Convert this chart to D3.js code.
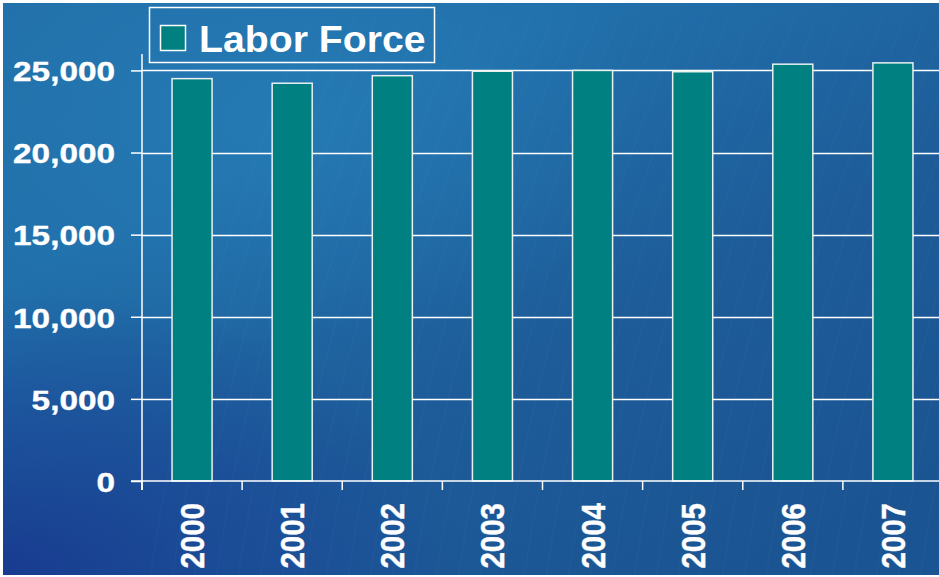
<!DOCTYPE html>
<html>
<head>
<meta charset="utf-8">
<script src="https://cdn.jsdelivr.net/npm/d3@7"></script>
<style>
  html, body { margin: 0; padding: 0; background: #ffffff; }
  svg { display: block; }
  text { font-family: "Liberation Sans", Arial, sans-serif; font-weight: bold; fill: #ffffff; }
</style>
</head>
<body>
<svg id="chart" width="939" height="577"></svg>
<script>
const categories = ["2000", "2001", "2002", "2003", "2004", "2005", "2006", "2007"];
const laborForce = [24500, 24220, 24680, 24950, 25000, 24920, 25380, 25460];
const yTicks = [0, 5000, 10000, 15000, 20000, 25000];
const seriesName = "Labor Force";

const W = 939, H = 577;
const margin = { left: 142, right: -4, top: 54, bottom: 96 };
const svg = d3.select("#chart");
const defs = svg.append("defs");

// Background gradients
const lg = defs.append("linearGradient").attr("id", "bg").attr("x1", 0).attr("y1", 0).attr("x2", 0.8).attr("y2", 1);
lg.append("stop").attr("offset", "0%").attr("stop-color", "#2270aa");
lg.append("stop").attr("offset", "30%").attr("stop-color", "#2170ab");
lg.append("stop").attr("offset", "65%").attr("stop-color", "#1d5c99");
lg.append("stop").attr("offset", "100%").attr("stop-color", "#1b5492");

const rg = defs.append("radialGradient").attr("id", "glow").attr("cx", 0.3).attr("cy", 0.2).attr("r", 0.4);
rg.append("stop").attr("offset", "0%").attr("stop-color", "#2a86bf").attr("stop-opacity", 0.45);
rg.append("stop").attr("offset", "100%").attr("stop-color", "#2a86bf").attr("stop-opacity", 0);

const dk = defs.append("radialGradient").attr("id", "dark").attr("cx", 0).attr("cy", 1).attr("r", 0.5);
dk.append("stop").attr("offset", "0%").attr("stop-color", "#18398f").attr("stop-opacity", 0.95);
dk.append("stop").attr("offset", "60%").attr("stop-color", "#1a4396").attr("stop-opacity", 0.5);
dk.append("stop").attr("offset", "100%").attr("stop-color", "#1a4396").attr("stop-opacity", 0);

svg.append("rect").attr("x", 3).attr("y", 3).attr("width", W - 3).attr("height", H - 5).attr("fill", "url(#bg)");
svg.append("rect").attr("x", 3).attr("y", 3).attr("width", W - 3).attr("height", H - 5).attr("fill", "url(#glow)");
svg.append("rect").attr("x", 3).attr("y", 3).attr("width", W - 3).attr("height", H - 5).attr("fill", "url(#dark)");

// faint streaks (decorative)
const streaks = svg.append("g").attr("opacity", 0.035).attr("stroke", "#ffffff").attr("fill", "none");
d3.range(0, 40).forEach(i => {
  const x0 = 150 + i * 22;
  streaks.append("path").attr("d", `M${x0},577 Q${x0 + 40},300 ${x0 + 160},20`).attr("stroke-width", 0.8);
});

const x = d3.scaleBand().domain(categories).range([margin.left, W - margin.right]).paddingInner(0.6).paddingOuter(0.3);
const bandStep = x.step();
const y = d3.scaleLinear().domain([0, 26000]).range([H - margin.bottom, margin.top]);

// gridlines
svg.append("g").selectAll("line").data(yTicks.filter(d => d > 0)).join("line")
  .attr("x1", margin.left).attr("x2", W)
  .attr("y1", d => Math.round(y(d)) + 0.5).attr("y2", d => Math.round(y(d)) + 0.5)
  .attr("stroke", "#ffffff").attr("stroke-width", 1.5);

// bars
svg.append("g").selectAll("rect").data(laborForce).join("rect")
  .attr("x", (d, i) => x(categories[i]))
  .attr("y", d => y(d))
  .attr("width", x.bandwidth())
  .attr("height", d => y(0) - y(d))
  .attr("fill", "#008080")
  .attr("stroke", "#e8f0f0").attr("stroke-width", 1.5);

// y axis
const yAxis = d3.axisLeft(y).tickValues(yTicks).tickSize(11).tickPadding(16).tickFormat(d3.format(","));
const gy = svg.append("g").attr("transform", `translate(${margin.left},0)`).call(yAxis);
gy.select(".domain").remove();
gy.append("line").attr("x1", 0).attr("x2", 0).attr("y1", margin.top).attr("y2", y(0) + 9)
  .attr("stroke", "#ffffff").attr("stroke-width", 1.5);
gy.selectAll(".tick line").attr("stroke", "#ffffff").attr("stroke-width", 1.5);
gy.selectAll(".tick text")
  .attr("font-size", 28.5).attr("fill", "#ffffff").attr("dy", "0.36em")
  .attr("stroke", "#ffffff").attr("stroke-width", 0.4)
  .each(function () {
    const t = d3.select(this);
    const xx = +t.attr("x");
    t.attr("transform", `translate(${xx},0) scale(1.17,1) translate(${-xx},0)`);
  });

// x axis
svg.append("line").attr("x1", margin.left - 11).attr("x2", W).attr("y1", y(0)).attr("y2", y(0))
  .attr("stroke", "#ffffff").attr("stroke-width", 1.5);
const boundaries = d3.range(categories.length).map(i => margin.left + i * bandStep);
svg.append("g").selectAll("line").data(boundaries).join("line")
  .attr("x1", d => d).attr("x2", d => d).attr("y1", y(0)).attr("y2", y(0) + 9)
  .attr("stroke", "#ffffff").attr("stroke-width", 1.5);
svg.append("g").selectAll("text").data(categories).join("text")
  .attr("transform", d => `translate(${x(d) + x.bandwidth() / 2},${y(0) + 22}) rotate(-90) scale(1,1.13)`)
  .attr("text-anchor", "end").attr("dy", "0.36em")
  .attr("font-size", 29.5)
  .attr("stroke", "#ffffff").attr("stroke-width", 0.4)
  .text(d => d);

// legend
const lgd = svg.append("g");
lgd.append("rect").attr("x", 149.5).attr("y", 7.5).attr("width", 285).attr("height", 55)
  .attr("fill", "none").attr("stroke", "#ffffff").attr("stroke-width", 1.5);
lgd.append("rect").attr("x", 160.5).attr("y", 25.5).attr("width", 25).attr("height", 25)
  .attr("fill", "#008080").attr("stroke", "#ffffff").attr("stroke-width", 1.5);
lgd.append("text").attr("x", 199).attr("y", 52).attr("font-size", 37)
  .attr("transform", "translate(199,0) scale(1.06,1) translate(-199,0)")
  .text(seriesName);
</script>
</body>
</html>
